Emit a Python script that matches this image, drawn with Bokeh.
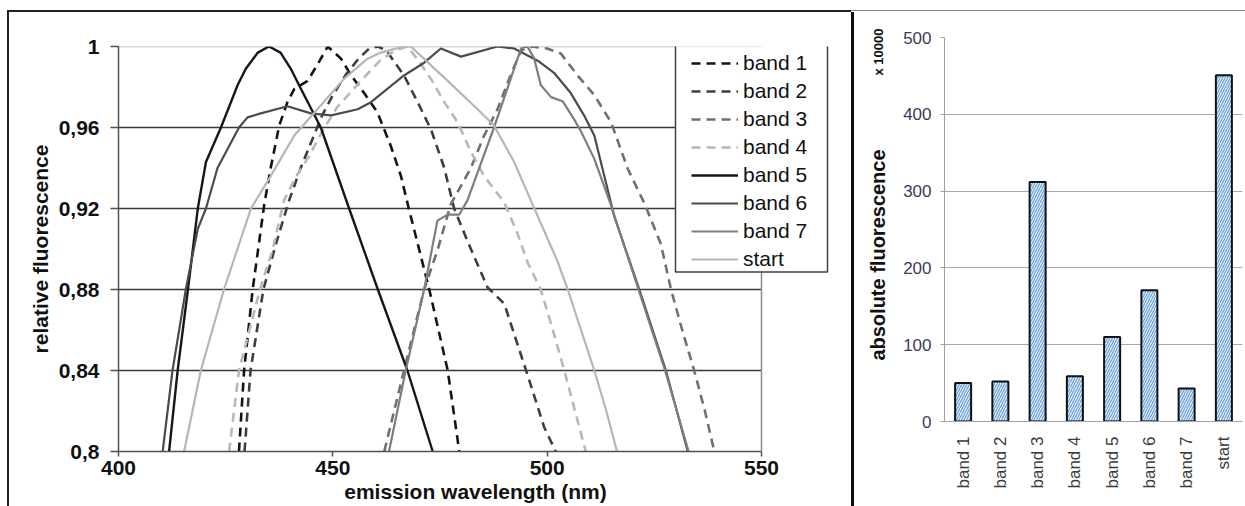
from math import pi
from bokeh.plotting import figure
from bokeh.models import (Range1d, FixedTicker, Legend, LegendItem, Div, Spacer,
                          CustomJSTickFormatter, BoxAnnotation)
from bokeh.layouts import row, column
from bokeh.embed import file_html
from bokeh.resources import INLINE

FONT = "Liberation Sans"

# ---------------- data: relative emission spectra ----------------
band1_x = [428.1, 429.3, 431.3, 434.0, 435.5, 437.5, 439.4, 441.0, 444.1, 446.4, 448.8, 451.9,
           454.2, 457.3, 460.4, 463.5, 465.9, 467.6, 472.5, 476.8, 479.5]
band1_y = [0.80, 0.84, 0.88, 0.922, 0.94, 0.961, 0.9725, 0.979, 0.983, 0.991, 1.0, 0.994,
           0.986, 0.977, 0.9675, 0.951, 0.936, 0.921, 0.88, 0.84, 0.80]

band2_x = [429.4, 430.8, 433.8, 436.8, 439.8, 442.5, 445.0, 447.5, 450.0, 453.0, 456.0, 458.5,
           460.5, 462.5, 466.6, 469.8, 472.9, 476.0, 478.3, 481.4, 486.1, 490.0, 492.3, 495.4,
           499.3, 502.0]
band2_y = [0.80, 0.84, 0.88, 0.903, 0.924, 0.94, 0.953, 0.966, 0.976, 0.986, 0.994, 0.999,
           1.0, 0.998, 0.9857, 0.9725, 0.959, 0.94, 0.92, 0.904, 0.881, 0.873, 0.858, 0.838,
           0.812, 0.80]

band3_x = [462.0, 466.6, 471.3, 474.5, 477.5, 482.2, 485.3, 488.4, 491.5, 493.9, 496.5, 500.0,
           503.2, 507.1, 511.0, 514.9, 518.8, 522.8, 526.5, 528.9, 531.5, 534.3, 536.8, 539.0]
band3_y = [0.80, 0.84, 0.88, 0.90, 0.922, 0.94, 0.956, 0.969, 0.986, 0.998, 1.0, 0.999,
           0.9965, 0.9857, 0.976, 0.9626, 0.9396, 0.922, 0.9026, 0.88, 0.86, 0.84, 0.82, 0.80]

band4_x = [425.8, 428.1, 433.0, 436.0, 438.6, 441.5, 444.5, 447.5, 451.0, 456.5, 461.0, 464.5,
           467.4, 470.0, 472.9, 476.0, 479.1, 482.2, 485.3, 490.0, 493.1, 495.5, 498.5, 501.6,
           504.0, 506.5, 509.0]
band4_y = [0.80, 0.84, 0.88, 0.90, 0.924, 0.936, 0.946, 0.958, 0.97, 0.983, 0.993, 0.998,
           1.0, 0.993, 0.984, 0.9725, 0.9626, 0.948, 0.936, 0.923, 0.9075, 0.893, 0.88, 0.858,
           0.84, 0.82, 0.80]

band5_x = [411.8, 413.8, 416.2, 418.5, 420.4, 423.9, 427.8, 429.7, 432.5, 435.1, 437.8, 440.2,
           442.1, 447.2, 453.8, 460.5, 467.4, 473.3]
band5_y = [0.80, 0.84, 0.88, 0.92, 0.943, 0.96, 0.981, 0.989, 0.997, 1.0, 0.997, 0.989,
           0.981, 0.96, 0.92, 0.88, 0.84, 0.80]

band6_x = [410.3, 412.6, 415.7, 418.5, 420.4, 423.1, 428.1, 430.1, 433.2, 439.4, 444.9, 449.6,
           455.8, 458.9, 466.6, 471.3, 475.2, 479.9, 488.4, 492.3, 497.8, 501.6, 505.5, 508.6,
           511.0, 515.6, 521.5, 527.7, 532.8]
band6_y = [0.80, 0.84, 0.88, 0.91, 0.92, 0.94, 0.96, 0.965, 0.967, 0.9705, 0.967, 0.966,
           0.969, 0.9725, 0.9857, 0.992, 0.999, 0.995, 1.0, 0.999, 0.993, 0.987, 0.977, 0.966,
           0.956, 0.9165, 0.88, 0.84, 0.80]

band7_x = [463.1, 467.0, 471.3, 474.4, 476.8, 479.5, 481.4, 487.6, 493.9, 495.4, 497.0, 498.5,
           500.9, 503.6, 506.3, 507.9, 511.0, 514.9, 521.3, 527.5, 533.0]
band7_y = [0.80, 0.84, 0.88, 0.914, 0.917, 0.917, 0.924, 0.96, 0.999, 1.0, 0.994, 0.981,
           0.975, 0.973, 0.964, 0.958, 0.9445, 0.9215, 0.88, 0.84, 0.80]

start_x = [415.3, 419.2, 424.6, 430.9, 435.5, 441.0, 446.4, 452.6, 458.1, 461.2, 466.5, 468.2,
           476.8, 484.5, 487.6, 492.3, 497.0, 502.4, 504.8, 507.9, 511.0, 513.8, 516.3]
start_y = [0.80, 0.84, 0.88, 0.92, 0.936, 0.956, 0.969, 0.984, 0.994, 0.997, 1.0, 1.0,
           0.983, 0.9675, 0.961, 0.943, 0.92, 0.894, 0.88, 0.86, 0.84, 0.82, 0.80]

series_names = ["band 1", "band 2", "band 3", "band 4", "band 5", "band 6", "band 7", "start"]

x_ticks = [400, 450, 500, 550]
y_ticks = [0.8, 0.84, 0.88, 0.92, 0.96, 1.0]
y_grid = [0.84, 0.88, 0.92, 0.96]

# ---------------- data: absolute fluorescence (x 10000) ----------------
bar_categories = ["band 1", "band 2", "band 3", "band 4", "band 5", "band 6", "band 7", "start"]
bar_values = [50, 52, 312, 59, 110, 171, 43, 451]
bar_ticks = [0, 100, 200, 300, 400, 500]

# ---------------- left chart ----------------
X_LO, X_HI = x_ticks[0], x_ticks[-1]
Y_LO, Y_HI = y_ticks[0], y_ticks[-1]
FRAME_W = 714                       # plot area 643 px + room for the legend box
x_view_hi = X_LO + FRAME_W * (X_HI - X_LO) / 643.0

p1 = figure(x_range=Range1d(X_LO, x_view_hi), y_range=Range1d(Y_LO, Y_HI),
            frame_width=FRAME_W, frame_height=405, title=None,
            min_border_left=109, min_border_right=19, min_border_top=34, min_border_bottom=80,
            output_backend="svg", toolbar_location=None, align="start",
            background_fill_color="white", border_fill_color="white")
p1.outline_line_color = None
p1.xgrid.grid_line_color = None
p1.ygrid.grid_line_color = None

n = len(y_grid)
p1.segment(x0=[X_LO] * n, x1=[X_HI] * n, y0=y_grid, y1=y_grid,
           line_color="#3a3a3a", line_width=1.5, level="underlay")
p1.segment(x0=[X_LO], x1=[X_HI], y0=[Y_HI], y1=[Y_HI],
           line_color="#b0b0b0", line_width=1.5, level="underlay")
p1.segment(x0=[X_HI], x1=[X_HI], y0=[Y_LO], y1=[Y_HI],
           line_color="#8c8c8c", line_width=1.5, level="underlay")

styles = [
    ("#141414", "dashed", 2.6),
    ("#3e3e3e", "dashed", 2.6),
    ("#707070", "dashed", 2.6),
    ("#b8b8b8", "dashed", 2.6),
    ("#121722", "solid", 2.4),
    ("#4b4b4b", "solid", 2.2),
    ("#7e7e7e", "solid", 2.2),
    ("#b6b6b6", "solid", 2.2),
]
xs = [band1_x, band2_x, band3_x, band4_x, band5_x, band6_x, band7_x, start_x]
ys = [band1_y, band2_y, band3_y, band4_y, band5_y, band6_y, band7_y, start_y]

items = []
for name, x, y, (col, dash, w) in zip(series_names, xs, ys, styles):
    r = p1.line(x, y, line_color=col, line_width=w,
                line_dash=("9 6" if dash == "dashed" else "solid"),
                line_join="round")
    items.append(LegendItem(label=name, renderers=[r]))

p1.xaxis.ticker = FixedTicker(ticks=x_ticks)
p1.xaxis.bounds = (X_LO, X_HI)
p1.yaxis.ticker = FixedTicker(ticks=y_ticks)
p1.yaxis.formatter = CustomJSTickFormatter(code="""
    if (Math.abs(tick - 1) < 1e-9) { return "1"; }
    var s = tick.toFixed(2).replace(".", ",");
    if (s.endsWith("0")) { s = s.slice(0, -1); }
    return s;
""")

for ax in (p1.xaxis[0], p1.yaxis[0]):
    ax.axis_line_color = "#505050"
    ax.axis_line_width = 1.5
    ax.major_tick_line_color = "#505050"
    ax.major_tick_line_width = 1.5
    ax.major_tick_in = 0
    ax.minor_tick_line_color = None
    ax.major_label_text_font = FONT
    ax.major_label_text_font_style = "bold"
    ax.major_label_text_font_size = "21px"
    ax.major_label_text_color = "#111111"
    ax.axis_label_text_font = FONT
    ax.axis_label_text_font_style = "bold"
    ax.axis_label_text_color = "#111111"

p1.xaxis.major_tick_out = 5
p1.xaxis.major_label_standoff = 4
p1.xaxis.axis_label = "emission wavelength (nm)"
p1.xaxis.axis_label_text_font_size = "21px"
p1.xaxis.axis_label_standoff = 2
p1.yaxis.major_tick_out = 8
p1.yaxis.major_label_standoff = 11
p1.yaxis.axis_label = "relative fluorescence"
p1.yaxis.axis_label_text_font_size = "21px"
p1.yaxis.axis_label_standoff = 4

# legend frame (screen px measured from the plot area's bottom-left corner)
p1.add_layout(BoxAnnotation(left=557, right=709, bottom=179.5, top=409.5,
                            left_units="screen", right_units="screen",
                            bottom_units="screen", top_units="screen",
                            fill_color="white", fill_alpha=1.0,
                            line_color="#404040", line_width=1.5, line_alpha=1.0))
legend = Legend(items=items, location=(573, 180), padding=5, spacing=4,
                glyph_width=47, glyph_height=20, label_standoff=5, label_width=70,
                label_text_font=FONT, label_text_font_size="21px",
                label_text_color="#111111",
                border_line_color=None, background_fill_alpha=0.0)
p1.add_layout(legend)

# ---------------- right chart ----------------
p2 = figure(x_range=bar_categories, y_range=Range1d(0, 500),
            frame_width=298, frame_height=384, title=None,
            min_border_left=43, min_border_right=4, min_border_top=26, min_border_bottom=109,
            output_backend="svg", toolbar_location=None, align="start",
            margin=(-9, 0, 0, 0),
            background_fill_color="white", border_fill_color="white", border_fill_alpha=0.0)
p2.outline_line_color = None
p2.vbar(x=bar_categories, top=bar_values, width=0.43,
        fill_color="#eef5fc", line_color="#111111", line_width=2,
        hatch_pattern="/", hatch_color="#6aa3da", hatch_scale=5.0, hatch_weight=1.3)

p2.yaxis.ticker = FixedTicker(ticks=bar_ticks)
p2.xgrid.grid_line_color = None
p2.ygrid.grid_line_color = "#a8a8a8"
p2.ygrid.grid_line_width = 1.2

p2.yaxis.axis_line_color = "#a0a0a0"
p2.yaxis.major_tick_line_color = "#a0a0a0"
p2.yaxis.major_tick_in = 0
p2.yaxis.major_tick_out = 4
p2.yaxis.minor_tick_line_color = None
p2.yaxis.major_label_text_font = FONT
p2.yaxis.major_label_text_font_size = "17px"
p2.yaxis.major_label_text_color = "#3c3c5a"
p2.yaxis.major_label_standoff = 9

p2.xaxis.axis_line_color = "#a0a0a0"
p2.xaxis.axis_line_width = 1.2
p2.xaxis.major_tick_line_color = None
p2.xaxis.minor_tick_line_color = None
p2.xaxis.major_label_orientation = pi / 2
p2.xaxis.major_label_text_font = FONT
p2.xaxis.major_label_text_font_size = "17px"
p2.xaxis.major_label_text_color = "#3a3a3a"
p2.xaxis.major_label_standoff = 9

# y-axis title of the bar chart (absolute fluorescence, x 10000), as real text
label_html = (
    '<div style="position:relative;width:46px;height:519px;overflow:visible;">'
    '<div style="position:absolute;left:24px;top:243px;transform:translate(-50%,-50%) rotate(-90deg);'
    'white-space:nowrap;font-family:\'Liberation Sans\';font-weight:bold;font-size:20px;'
    'color:#111111;line-height:1;">absolute fluorescence</div>'
    '<div style="position:absolute;left:24px;top:40px;transform:translate(-50%,-50%) rotate(-90deg);'
    'white-space:nowrap;font-family:\'Liberation Sans\';font-weight:bold;font-size:13px;'
    'color:#111111;line-height:1;">x 10000</div>'
    '</div>'
)
label_div = Div(text=label_html, width=46, height=519, margin=0, align="start",
                styles={"overflow": "visible"})

# ---------------- frame lines & layout ----------------
def bar(w, h, color):
    return Div(text="", width=w, height=h, margin=0, align="start",
               styles={"background-color": color})

H = 519
top = row(Spacer(width=7, height=12, margin=0),
          column(Spacer(width=844, height=10, margin=0), bar(844, 2, "#1b2130"), margin=0),
          column(Spacer(width=394, height=10, margin=0), bar(394, 1, "#8a8a8a"), margin=0),
          margin=0, spacing=0)
body = row(Spacer(width=7, height=H, margin=0),
           bar(2, H, "#1b2130"),
           p1,
           bar(3, H, "#0d0f14"),
           label_div,
           p2,
           margin=0, spacing=0)
layout = column(top, body, margin=0, spacing=0)

open("out.html", "w").write(file_html(layout, INLINE))
